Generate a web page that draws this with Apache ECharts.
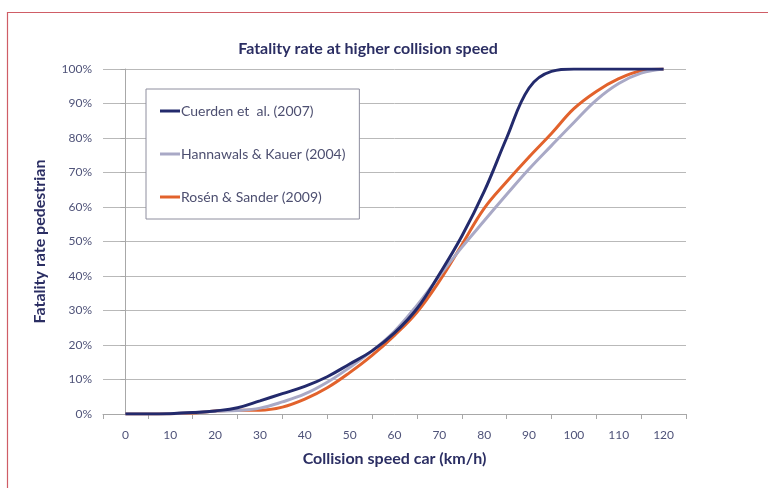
<!DOCTYPE html>
<html>
<head>
<meta charset="utf-8">
<script src="https://cdn.jsdelivr.net/npm/echarts@6/dist/echarts.min.js"></script>
<style>
html,body{margin:0;padding:0;background:#fff;}
#chart{width:768px;height:488px;}
</style>
</head>
<body>
<div id="chart"></div>
<script>
const titleText = 'Fatality rate at higher collision speed';
const xAxisTitle = 'Collision speed car (km/h)';
const yAxisTitle = 'Fatality rate pedestrian';
const categories = ['0','10','20','30','40','50','60','70','80','90','100','110','120'];
const seriesNames = ['Cuerden et  al. (2007)', 'Hannawals & Kauer (2004)', 'Rosén & Sander (2009)'];
const speeds   = [0, 5, 10, 15, 20, 25, 30, 35, 40, 45, 50, 55, 60, 65, 70, 75, 80, 85, 90, 95, 100, 105, 110, 115, 120];
const cuerden  = [0, 0, 0.1, 0.4, 0.9, 1.8, 3.8, 5.9, 8.0, 10.8, 14.5, 18.3, 23.5, 30.5, 40.5, 51.5, 64.5, 80, 94.5, 99.3, 100, 100, 100, 100, 100];
const hannawals= [0, 0, 0.1, 0.4, 0.8, 1.0, 1.7, 3.5, 5.8, 9.2, 13.5, 18.3, 24, 31.5, 40, 48.3, 56, 63.6, 71, 77.8, 84.5, 91, 95.8, 98.8, 100];
const rosen    = [0, 0, 0.1, 0.3, 0.9, 1.1, 1.1, 2.0, 4.3, 7.6, 12.0, 17.0, 22.8, 29.5, 38.5, 49, 59.6, 67.3, 74.5, 81.3, 88.5, 93.5, 97.2, 99.5, 100];
const colors = ['#232a6c', '#a9a9c6', '#e2622c'];

const pair = arr => speeds.map((s, i) => [s, arr[i]]);
const valuesList = [cuerden, hannawals, rosen];

const chart = echarts.init(document.getElementById('chart'), null, {renderer: 'canvas'});
chart.setOption({
  backgroundColor: '#ffffff',
  animation: false,
  textStyle: {fontFamily: 'Lato'},
  title: {
    text: titleText,
    left: 363, top: 36, textAlign: 'center',
    textStyle: {fontFamily: 'Lato', fontWeight: 'bold', fontSize: 16, color: '#2b2e63'}
  },
  graphic: [{
    type: 'rect', silent: true, z: -1,
    shape: {x: 7.5, y: 12.5, width: 800, height: 520},
    style: {fill: 'none', stroke: '#cf5d66', lineWidth: 1.2}
  }],
  legend: {
    orient: 'vertical', left: 146, top: 89,
    padding: [15, 14, 15, 14], itemGap: 29,
    itemWidth: 20, itemHeight: 3,
    backgroundColor: '#ffffff', borderColor: '#8e8e9e', borderWidth: 1,
    icon: 'rect',
    textStyle: {fontFamily: 'Lato', fontSize: 14, color: '#4d4f70', padding: [0,0,0,-4]},
    data: seriesNames
  },
  grid: {left: 103, right: 82, top: 69, bottom: 74},
  xAxis: [{
    type: 'category', data: categories, boundaryGap: true,
    name: xAxisTitle, nameLocation: 'middle', nameGap: 37,
    nameTextStyle: {fontFamily: 'Lato', fontWeight: 'bold', fontSize: 16, color: '#2b2e63'},
    axisLine: {lineStyle: {color: '#a8a8a8', width: 1}},
    axisTick: {show: true, length: 5, lineStyle: {color: '#a8a8a8'}},
    axisLabel: {fontFamily: 'Lato', fontSize: 12, color: '#4f5379', margin: 15},
    splitLine: {show: false}
  }, {
    type: 'value', min: -5, max: 125, show: false
  }],
  yAxis: {
    type: 'value', min: 0, max: 100, interval: 10,
    name: yAxisTitle, nameLocation: 'middle', nameGap: 55,
    nameTextStyle: {fontFamily: 'Lato', fontWeight: 'bold', fontSize: 16, color: '#2b2e63'},
    axisLine: {show: true, lineStyle: {color: '#a8a8a8', width: 1}},
    axisTick: {show: true, length: 5, lineStyle: {color: '#a8a8a8'}},
    axisLabel: {fontFamily: 'Lato', fontSize: 12, color: '#4f5379', margin: 11, formatter: '{value}%'},
    splitLine: {show: true, lineStyle: {color: '#b9b9b9', width: 1}}
  },
  series: seriesNames.map((n, i) => ({
    name: n, type: 'line', xAxisIndex: 1,
    data: pair(valuesList[i]),
    smooth: 0.4, showSymbol: false, symbol: 'none',
    lineStyle: {color: colors[i], width: 3},
    itemStyle: {color: colors[i]},
    z: 3 - i
  }))
});
</script>
</body>
</html>
